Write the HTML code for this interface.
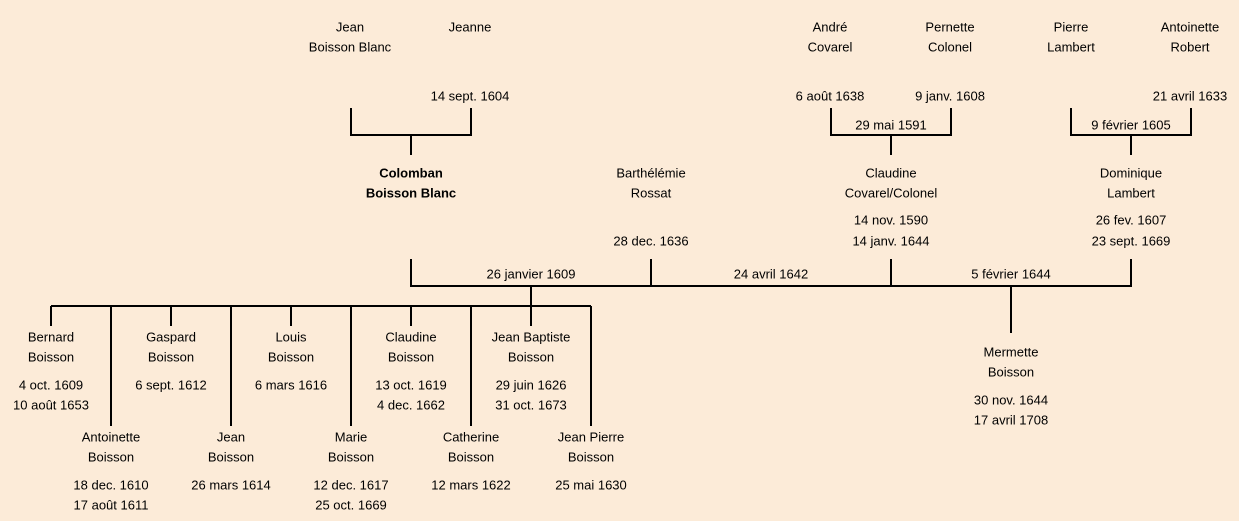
<!DOCTYPE html>
<html><head><meta charset="utf-8"><style>
html,body{margin:0;padding:0;background:#fcebd8;}
svg{display:block}
text{font-family:"Liberation Sans",sans-serif;font-size:13px;fill:#000;text-anchor:middle;dominant-baseline:middle}
.b{font-weight:bold}
</style></head><body>
<svg width="1239" height="521" viewBox="0 0 1239 521">
<rect width="1239" height="521" fill="#fcebd8"/>
<g stroke="#000" stroke-width="2" fill="none">
<path d="M351 108V135H471V108M411 135V155"/>
<path d="M831 108V135H951V108M891 135V155"/>
<path d="M1071 108V135H1191V108M1131 135V155"/>
<path d="M411 259V286H1131V259M651 259V286M891 259V286"/>
<path d="M531 286V306M51 306H591"/>
<path d="M51 306V326M171 306V326M291 306V326M411 306V326M531 306V326"/>
<path d="M111 306V426M231 306V426M351 306V426M471 306V426M591 306V426"/>
<path d="M1011 286V333"/>
</g>
<g transform="translate(0,1)">
<text x="350" y="27">Jean</text><text x="350" y="47">Boisson Blanc</text>
<text x="470" y="27">Jeanne</text>
<text x="470" y="96">14 sept. 1604</text>
<text x="411" y="173" class="b">Colomban</text><text x="411" y="193" class="b">Boisson Blanc</text>
<text x="651" y="173">Barthélémie</text><text x="651" y="193">Rossat</text><text x="651" y="241">28 dec. 1636</text>
<text x="830" y="27">André</text><text x="830" y="47">Covarel</text>
<text x="950" y="27">Pernette</text><text x="950" y="47">Colonel</text>
<text x="1071" y="27">Pierre</text><text x="1071" y="47">Lambert</text>
<text x="1190" y="27">Antoinette</text><text x="1190" y="47">Robert</text>
<text x="830" y="96">6 août 1638</text><text x="950" y="96">9 janv. 1608</text><text x="1190" y="96">21 avril 1633</text>
<text x="891" y="125">29 mai 1591</text><text x="1131" y="125">9 février 1605</text>
<text x="891" y="173">Claudine</text><text x="891" y="193">Covarel/Colonel</text>
<text x="891" y="220">14 nov. 1590</text><text x="891" y="241">14 janv. 1644</text>
<text x="1131" y="173">Dominique</text><text x="1131" y="193">Lambert</text>
<text x="1131" y="220">26 fev. 1607</text><text x="1131" y="241">23 sept. 1669</text>
<text x="531" y="274">26 janvier 1609</text><text x="771" y="274">24 avril 1642</text><text x="1011" y="274">5 février 1644</text>
<text x="51" y="337">Bernard</text><text x="51" y="357">Boisson</text><text x="51" y="385">4 oct. 1609</text><text x="51" y="405">10 août 1653</text>
<text x="171" y="337">Gaspard</text><text x="171" y="357">Boisson</text><text x="171" y="385">6 sept. 1612</text>
<text x="291" y="337">Louis</text><text x="291" y="357">Boisson</text><text x="291" y="385">6 mars 1616</text>
<text x="411" y="337">Claudine</text><text x="411" y="357">Boisson</text><text x="411" y="385">13 oct. 1619</text><text x="411" y="405">4 dec. 1662</text>
<text x="531" y="337">Jean Baptiste</text><text x="531" y="357">Boisson</text><text x="531" y="385">29 juin 1626</text><text x="531" y="405">31 oct. 1673</text>
<text x="111" y="437">Antoinette</text><text x="111" y="457">Boisson</text><text x="111" y="485">18 dec. 1610</text><text x="111" y="505">17 août 1611</text>
<text x="231" y="437">Jean</text><text x="231" y="457">Boisson</text><text x="231" y="485">26 mars 1614</text>
<text x="351" y="437">Marie</text><text x="351" y="457">Boisson</text><text x="351" y="485">12 dec. 1617</text><text x="351" y="505">25 oct. 1669</text>
<text x="471" y="437">Catherine</text><text x="471" y="457">Boisson</text><text x="471" y="485">12 mars 1622</text>
<text x="591" y="437">Jean Pierre</text><text x="591" y="457">Boisson</text><text x="591" y="485">25 mai 1630</text>
<text x="1011" y="352">Mermette</text><text x="1011" y="372">Boisson</text><text x="1011" y="400">30 nov. 1644</text><text x="1011" y="420">17 avril 1708</text>
</g>
</svg>
</body></html>
